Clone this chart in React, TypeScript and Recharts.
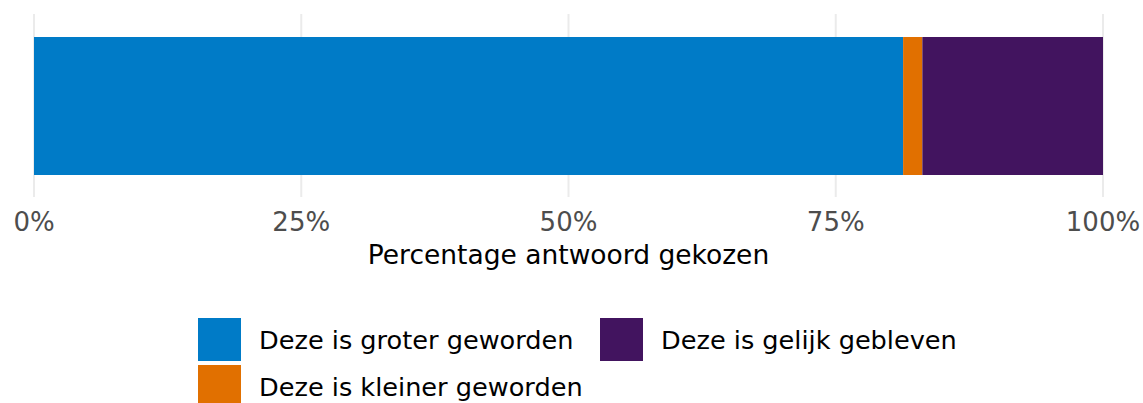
import { Bar, BarChart, CartesianGrid, Legend, XAxis, YAxis } from 'recharts'

document.body.style.margin = '0'

const CATEGORIES = ['Vraag']
const GROTER = [0.813]
const KLEINER = [0.018]
const GELIJK = [0.169]
const TICKS = [0, 0.25, 0.5, 0.75, 1]

const SERIES = [
  { key: 'groter', name: 'Deze is groter geworden', color: '#007bc7' },
  { key: 'kleiner', name: 'Deze is kleiner geworden', color: '#e17000' },
  { key: 'gelijk', name: 'Deze is gelijk gebleven', color: '#42145f' },
]

const data = CATEGORIES.map((c, i) => ({
  cat: c,
  groter: GROTER[i],
  kleiner: KLEINER[i],
  gelijk: GELIJK[i],
}))

const FONT = '"DejaVu Sans", Verdana, sans-serif'

function LegendBox() {
  // column-major like ggplot: groter, kleiner in first column, gelijk in second
  const pos: Record<string, { left: number; top: number }> = {
    groter: { left: 198, top: 0 },
    kleiner: { left: 198, top: 47 },
    gelijk: { left: 600, top: 0 },
  }
  return (
    <div style={{ position: 'relative', width: 1143, height: 90, fontFamily: FONT }}>
      {SERIES.map((s) => (
        <div key={s.key} style={{ position: 'absolute', left: pos[s.key].left, top: pos[s.key].top, display: 'flex', alignItems: 'center' }}>
          <div style={{ width: 43, height: 43, background: s.color }} />
          <span style={{ marginLeft: 18, fontSize: 25.6, color: '#000', whiteSpace: 'nowrap' }}>{s.name}</span>
        </div>
      ))}
    </div>
  )
}

export default function App() {
  return (
    <BarChart
      width={1143}
      height={403}
      data={data}
      layout="vertical"
      margin={{ top: 14, right: 40, left: 34, bottom: 36 }}
      barSize={138}
      style={{ fontFamily: FONT }}
    >
      <CartesianGrid horizontal={false} stroke="#ebebeb" strokeWidth={2} />
      <XAxis
        type="number"
        domain={[0, 1]}
        ticks={TICKS}
        tickFormatter={(v) => `${Math.round(v * 100)}%`}
        axisLine={false}
        tickLine={false}
        tick={{ fill: '#4d4d4d', fontSize: 26 }}
        tickMargin={10}
        height={80}
        label={{ value: 'Percentage antwoord gekozen', position: 'insideTop', offset: 48, fill: '#000', fontSize: 26.5 }}
      />
      <YAxis type="category" dataKey="cat" hide />
      {SERIES.map((s) => (
        <Bar key={s.key} dataKey={s.key} name={s.name} stackId="a" fill={s.color} isAnimationActive={false} />
      ))}
      <Legend content={() => <LegendBox />} wrapperStyle={{ top: 318, left: 0, width: 1143 }} />
    </BarChart>
  )
}
